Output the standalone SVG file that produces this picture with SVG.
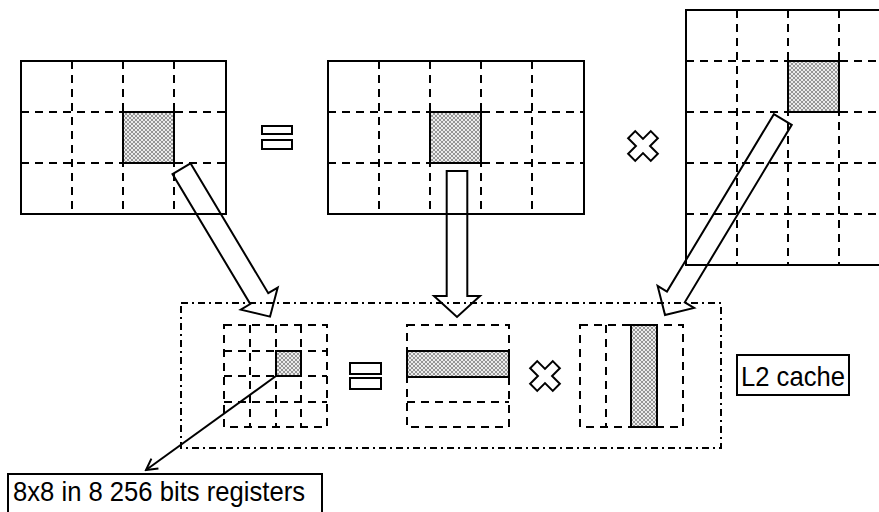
<svg xmlns="http://www.w3.org/2000/svg" width="879" height="512" viewBox="0 0 879 512">
<defs>
<pattern id="hatch" width="4" height="4" patternUnits="userSpaceOnUse">
<rect width="4" height="4" fill="#ececec"/>
<path d="M0,0 L4,4 M4,0 L0,4" stroke="#808080" stroke-width="0.8"/>
</pattern>
<marker id="open" markerWidth="14" markerHeight="14" refX="12" refY="7" orient="auto" markerUnits="userSpaceOnUse">
<path d="M1,1 L12,7 L1,13" fill="none" stroke="#000" stroke-width="2"/>
</marker>
</defs>
<style>
.solid{fill:none;stroke:#000;stroke-width:2}
.dash{fill:none;stroke:#000;stroke-width:2;stroke-dasharray:8 6}
.dashdot{fill:none;stroke:#000;stroke-width:2;stroke-dasharray:7 4 2 4}
.shade{fill:url(#hatch);stroke:#000;stroke-width:2}
.sym{fill:#fff;stroke:#000;stroke-width:2}
.blk{fill:none;stroke:#000;stroke-width:2;stroke-linejoin:miter}
.lbl{font-family:"Liberation Sans",Arial,sans-serif;font-size:28px;fill:#000}
</style>
<rect width="879" height="512" fill="#fff"/>

<g id="matrixC">
<path class="dash" d="M72,61 V214 M123,61 V214 M174,61 V214 M21,112 H226 M21,163 H226"/>
<rect class="solid" x="21" y="61" width="205" height="153"/>
<rect class="shade" x="123" y="112" width="51" height="51"/>
</g>

<g id="equals1">
<rect class="sym" x="262" y="126" width="30" height="8"/>
<rect class="sym" x="262" y="140" width="30" height="9"/>
</g>

<g id="matrixA">
<path class="dash" d="M379,61 V214 M430,61 V214 M481,61 V214 M532,61 V214 M328,112 H584 M328,163 H584"/>
<rect class="solid" x="328" y="61" width="256" height="153"/>
<rect class="shade" x="430" y="112" width="51" height="51"/>
</g>

<g id="times1">
<path class="sym" transform="translate(643,146) rotate(45)" d="M-5,-16 H5 V-5 H16 V5 H5 V16 H-5 V5 H-16 V-5 H-5 Z"/>
</g>

<g id="matrixB">
<path class="dash" d="M737,10 V265 M788,10 V265 M839,10 V265 M686,61 H879 M686,112 H879 M686,163 H879 M686,214 H879"/>
<path class="solid" d="M882,10 H686 V265 H882"/>
<rect class="shade" x="788" y="61" width="51" height="51"/>
</g>

<g id="l2region">
<rect class="dashdot" x="181" y="303" width="540" height="145"/>
</g>

<g id="regC">
<path class="dash" d="M250,325 V427 M276,325 V427 M301,325 V427 M224,351 H327 M224,376 H327 M224,402 H327"/>
<rect class="dash" x="224" y="325" width="103" height="102"/>
<rect class="shade" x="276" y="351" width="25" height="25"/>
</g>

<g id="equals2">
<rect class="sym" x="350" y="363" width="31" height="11"/>
<rect class="sym" x="350" y="378" width="31" height="11"/>
</g>

<g id="blockA">
<path class="dash" d="M407,402 H509"/>
<rect class="dash" x="407" y="325" width="102" height="102"/>
<rect class="shade" x="407" y="351" width="102" height="26"/>
</g>

<g id="times2">
<path class="sym" transform="translate(545,376) rotate(45)" d="M-5,-16 H5 V-5 H16 V5 H5 V16 H-5 V5 H-16 V-5 H-5 Z"/>
</g>

<g id="blockB">
<path class="dash" d="M606,325 V427"/>
<rect class="dash" x="580" y="325" width="103" height="102"/>
<rect class="shade" x="631" y="325" width="26" height="102"/>
</g>

<g id="l2label">
<rect class="solid" x="737" y="355" width="112" height="40"/>
<text class="lbl" x="741" y="386" textLength="104" lengthAdjust="spacingAndGlyphs">L2 cache</text>
</g>

<g id="regLabel">
<rect class="solid" x="8" y="474" width="314" height="50"/>
<text class="lbl" x="13" y="501" textLength="292" lengthAdjust="spacingAndGlyphs">8x8 in 8 256 bits registers</text>
</g>

<g id="connectors">
<path class="blk" transform="translate(181.5,168.7) rotate(59.1)" d="M0,-10.5 L151.4,-10.5 L151.4,-21.5 L172.4,0 L151.4,21.5 L151.4,10.5 L0,10.5 Z"/>
<path class="blk" d="M446.7,171 H467.3 V296 H480 L457,317 L434,296 H446.7 Z"/>
<path class="blk" transform="translate(782.8,119.5) rotate(121.07)" d="M0,-10.4 L207.2,-10.4 L207.2,-21.3 L228.2,0 L207.2,21.3 L207.2,10.4 L0,10.4 Z"/>
<line x1="276" y1="376" x2="146" y2="470" stroke="#000" stroke-width="2" marker-end="url(#open)"/>
</g>
</svg>
